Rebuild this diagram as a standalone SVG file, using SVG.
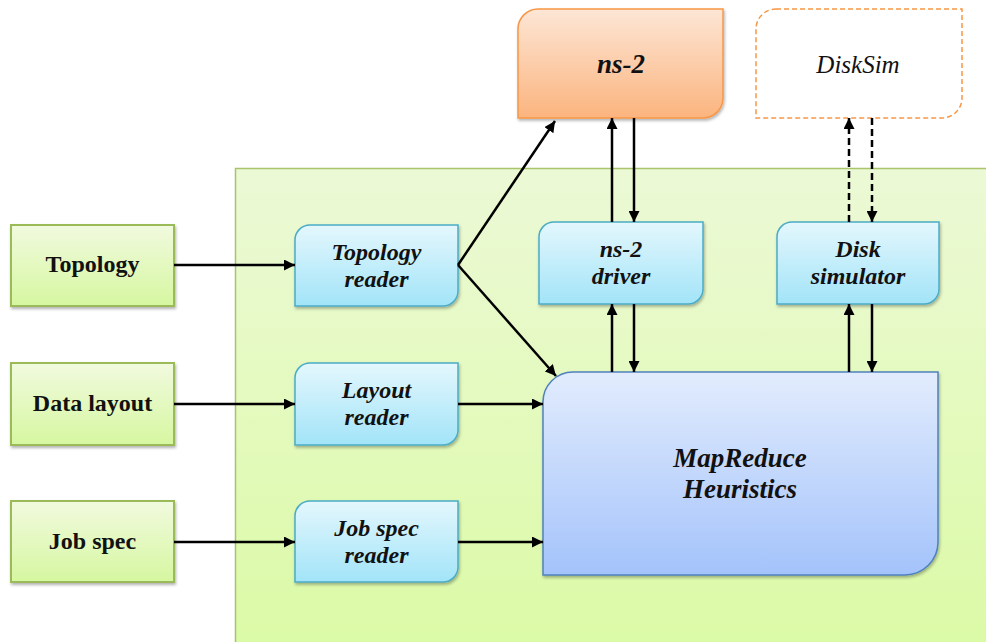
<svg xmlns="http://www.w3.org/2000/svg" width="986" height="642" viewBox="0 0 986 642">
  <style>
    .in { fill: url(#gIn); stroke: #9bbb59; stroke-width: 2; }
    .rd { fill: url(#gRd); stroke: #4bacc6; stroke-width: 1.5; }
    .lbl { font-family: "Liberation Serif", "DejaVu Serif", serif; font-weight: bold; font-size: 24px; fill: #111; text-anchor: middle; }
    .it { font-style: italic; }
    .big { font-size: 27px; }
    .thin { font-weight: normal; font-size: 25px; }
    .wire { stroke: #000; stroke-width: 2.5; fill: none; marker-end: url(#ah); }
    .dash { stroke-dasharray: 7 4; }
  </style>
  <defs>
    <linearGradient id="gPanel" x1="0" y1="0" x2="0" y2="1">
      <stop offset="0" stop-color="#ecf9d6"/>
      <stop offset="1" stop-color="#dbfaa6"/>
    </linearGradient>
    <linearGradient id="gIn" x1="0" y1="0" x2="0" y2="1">
      <stop offset="0" stop-color="#f1fadf"/>
      <stop offset="1" stop-color="#d6f7a0"/>
    </linearGradient>
    <linearGradient id="gRd" x1="0" y1="0" x2="0" y2="1">
      <stop offset="0" stop-color="#e4f7fd"/>
      <stop offset="1" stop-color="#a2e4f8"/>
    </linearGradient>
    <linearGradient id="gMr" x1="0" y1="0" x2="0" y2="1">
      <stop offset="0" stop-color="#e2ecfd"/>
      <stop offset="1" stop-color="#a4c3fb"/>
    </linearGradient>
    <linearGradient id="gNs" x1="0" y1="0" x2="0" y2="1">
      <stop offset="0" stop-color="#fde6d6"/>
      <stop offset="1" stop-color="#fbb47e"/>
    </linearGradient>
    <filter id="sh" x="-10%" y="-10%" width="120%" height="130%">
      <feDropShadow dx="1" dy="2" stdDeviation="1.5" flood-color="#000" flood-opacity="0.3"/>
    </filter>
    <marker id="ah" viewBox="0 0 10 10" refX="10" refY="5" markerWidth="4.4" markerHeight="4.4" orient="auto" markerUnits="strokeWidth">
      <path d="M0,0 L10,5 L0,10 Z" fill="#000"/>
    </marker>
  </defs>

  <!-- simulator frame -->
  <rect id="frame" x="235.5" y="168.5" width="752" height="476" fill="url(#gPanel)" stroke="#a9c46b" stroke-width="1.5"/>

  <!-- external simulators -->
  <g id="ns2">
    <path d="M538,9 H723 V98 A20,20 0 0 1 703,118 H518 V29 A20,20 0 0 1 538,9 Z" fill="url(#gNs)" stroke="#f79646" stroke-width="1.5" filter="url(#sh)"/>
    <text class="lbl it big" x="621" y="73">ns-2</text>
  </g>
  <g id="disksim">
    <path d="M776,9 H962 V98 A20,20 0 0 1 942,118 H756 V29 A20,20 0 0 1 776,9 Z" fill="#fff" stroke="#f79646" stroke-width="1.5" stroke-dasharray="5 3"/>
    <text class="lbl it thin" x="858" y="73">DiskSim</text>
  </g>

  <!-- inputs -->
  <g id="topology">
    <rect class="in" x="11" y="225" width="163" height="81" filter="url(#sh)"/>
    <text class="lbl" x="92.5" y="272">Topology</text>
  </g>
  <g id="datalayout">
    <rect class="in" x="11" y="363" width="163" height="82" filter="url(#sh)"/>
    <text class="lbl" x="92.5" y="411">Data layout</text>
  </g>
  <g id="jobspec">
    <rect class="in" x="11" y="501" width="163" height="81" filter="url(#sh)"/>
    <text class="lbl" x="92.5" y="549">Job spec</text>
  </g>

  <!-- readers -->
  <g id="topologyreader">
    <path class="rd" d="M310,225 H458 V291 A15,15 0 0 1 443,306 H295 V240 A15,15 0 0 1 310,225 Z" filter="url(#sh)"/>
    <text class="lbl it" x="376.5" y="260">Topology</text>
    <text class="lbl it" x="376.5" y="287">reader</text>
  </g>
  <g id="layoutreader">
    <path class="rd" d="M310,363 H458 V430 A15,15 0 0 1 443,445 H295 V378 A15,15 0 0 1 310,363 Z" filter="url(#sh)"/>
    <text class="lbl it" x="376.5" y="398">Layout</text>
    <text class="lbl it" x="376.5" y="425">reader</text>
  </g>
  <g id="jobspecreader">
    <path class="rd" d="M310,501 H458 V567 A15,15 0 0 1 443,582 H295 V516 A15,15 0 0 1 310,501 Z" filter="url(#sh)"/>
    <text class="lbl it" x="376.5" y="536">Job spec</text>
    <text class="lbl it" x="376.5" y="563">reader</text>
  </g>

  <!-- drivers -->
  <g id="ns2driver">
    <path class="rd" d="M554,222 H703 V289 A15,15 0 0 1 688,304 H539 V237 A15,15 0 0 1 554,222 Z" filter="url(#sh)"/>
    <text class="lbl it" x="621" y="257">ns-2</text>
    <text class="lbl it" x="621" y="284">driver</text>
  </g>
  <g id="disksimulator">
    <path class="rd" d="M792,222 H939 V289 A15,15 0 0 1 924,304 H777 V237 A15,15 0 0 1 792,222 Z" filter="url(#sh)"/>
    <text class="lbl it" x="858" y="257">Disk</text>
    <text class="lbl it" x="858" y="284">simulator</text>
  </g>

  <!-- core -->
  <g id="mapreduce">
    <path d="M573,372 H938 V542 A33,33 0 0 1 905,575 H543 V402 A30,30 0 0 1 573,372 Z" fill="url(#gMr)" stroke="#4f81bd" stroke-width="1.5" filter="url(#sh)"/>
    <text class="lbl it big" x="740" y="467">MapReduce</text>
    <text class="lbl it big" x="740" y="498">Heuristics</text>
  </g>

  <!-- connectors -->
  <g id="connectors">
    <path class="wire" d="M174,265 H295"/>
    <path class="wire" d="M174,404 H295"/>
    <path class="wire" d="M174,542 H295"/>
    <path class="wire" d="M458,265 L555,121"/>
    <path class="wire" d="M458,265 L556,376"/>
    <path class="wire" d="M458,404 H543"/>
    <path class="wire" d="M458,542 H543"/>
    <path class="wire" d="M612,222 V118"/>
    <path class="wire" d="M634,118 V222"/>
    <path class="wire" d="M612,372 V304"/>
    <path class="wire" d="M634,304 V372"/>
    <path class="wire dash" d="M849,222 V118"/>
    <path class="wire dash" d="M872,118 V222"/>
    <path class="wire" d="M849,372 V304"/>
    <path class="wire" d="M872,304 V372"/>
  </g>
</svg>
